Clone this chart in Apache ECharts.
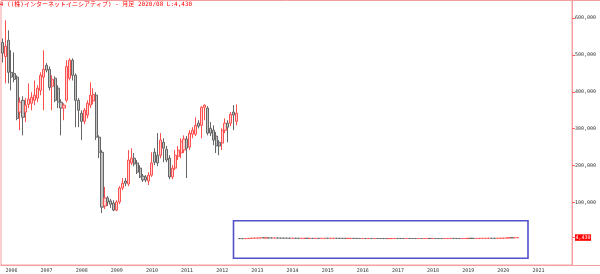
<!DOCTYPE html>
<html><head><meta charset="utf-8">
<script src="https://cdn.jsdelivr.net/npm/echarts@6/dist/echarts.min.js"></script>
<style>html,body{margin:0;padding:0;background:#fff}#c{width:600px;height:274px}</style>
</head><body><div id="c"></div>
<script>
const titleText = '3774 ((株)インターネットイニシアティブ) - 月足 2020/08 L:4,430';
const firstYear = 2005, firstMonth = 12, axisMonthCount = 195;
// monthly candles 2005/12 - 2012/08, [open, close, low, high] in thousand yen (before split)
const preSplitK = [
 [534,505,480,545],[496,524,423,594],[540,453,423,567],[453,440,404,513],[450,434,426,507],
 [440,328,323,445],[345,372,296,385],[377,331,282,388],[345,364,318,383],[366,380,356,423],
 [369,385,350,399],[377,391,364,431],[383,410,372,418],[404,445,391,453],[440,461,350,513],
 [472,459,453,478],[461,412,404,469],[415,434,350,445],[437,377,372,442],[410,372,356,418],
 [372,356,282,380],[356,364,323,369],[377,469,372,486],[437,486,431,491],[486,445,431,491],
 [445,377,304,450],[377,350,304,383],[342,320,269,350],[320,350,312,356],[337,369,328,377],
 [364,391,356,426],[375,393,366,410],[391,277,269,399],[277,236,220,282],[236,87,71,242],
 [90,112,82,142],[112,101,90,117],[104,95,85,109],[98,79,76,106],[79,101,76,106],
 [101,139,95,144],[139,152,133,166],[158,152,144,166],[150,215,144,242],[207,220,201,247],
 [220,204,198,234],[207,182,177,215],[193,169,166,201],[171,161,155,177],[169,161,155,174],
 [158,174,147,182],[174,207,169,236],[236,209,201,247],[228,207,198,288],[228,269,220,288],
 [263,247,209,274],[244,215,209,253],[220,169,163,228],[169,193,163,201],[193,228,188,242],
 [225,242,215,253],[234,266,220,274],[242,272,234,282],[272,247,166,280],[250,288,242,296],
 [285,296,274,304],[285,309,280,331],[315,307,301,323],[309,358,274,361],[358,364,323,366],
 [356,288,282,361],[301,288,280,318],[296,269,255,309],[280,253,234,291],[263,253,228,269],
 [261,296,242,301],[296,315,288,328],[315,304,263,323],[315,339,307,345],[345,337,296,364],
 [320,342,309,366]
];
// monthly candles 2012/09 - 2020/08, [open, close, low, high] in yen (after split)
const postSplit = [
 [1710,1650,1580,1760],[1650,1600,1520,1690],[1600,1720,1560,1750],[1720,2330,1700,2400],
 [2330,2900,2300,3000],[2900,3050,2750,3200],[3050,3300,2950,3500],[3300,3900,3250,4100],[3900,3450,3100,4300],[3450,3600,3150,3700],
 [3600,3400,3300,3750],[3400,3200,3050,3500],[3200,3350,3100,3450],[3350,3050,2950,3400],[3050,3000,2850,3150],[3000,2950,2850,3100],
 [2950,2700,2600,3000],[2700,2500,2400,2750],[2500,2700,2400,2800],[2700,2450,2350,2750],[2450,2350,2250,2500],[2350,2400,2300,2500],
 [2400,2450,2350,2550],[2450,2300,2200,2500],[2300,2420,2250,2500],[2420,2150,2050,2450],[2150,2300,2100,2350],[2300,2250,2150,2350],
 [2250,2350,2150,2400],[2350,2500,2300,2600],[2500,2380,2300,2550],[2380,2450,2300,2520],[2450,2600,2400,2680],[2600,2480,2400,2650],
 [2480,2350,2250,2520],[2350,2250,2000,2400],[2250,2150,2050,2300],[2150,2200,2100,2280],[2200,2300,2150,2350],[2300,2200,2150,2350],
 [2200,2050,1850,2250],[2050,1900,1750,2100],[1900,2000,1850,2050],[2000,1950,1850,2080],[1950,2050,1900,2100],[2050,1900,1800,2100],
 [1900,2000,1850,2050],[2000,1950,1900,2050],[1950,1850,1800,2000],[1850,1800,1750,1900],[1800,1750,1650,1850],[1750,1850,1700,1900],
 [1850,2000,1800,2050],[2000,2100,1950,2150],[2100,2050,2000,2200],[2050,2000,1950,2100],[2000,1950,1900,2050],[1950,2050,1920,2100],
 [2050,1980,1950,2100],[1980,1900,1850,2000],[1900,1850,1800,1950],[1850,1950,1830,2000],[1950,1900,1850,2000],[1900,1950,1870,2000],
 [1950,2100,1930,2200],[2100,2000,1900,2150],[2000,2050,1950,2100],[2050,1900,1850,2080],[1900,1850,1800,1950],[1850,1820,1750,1900],
 [1820,1900,1780,1950],[1900,2050,1880,2100],[2050,2200,2000,2300],[2200,2100,1950,2300],[2100,1950,1900,2150],[1950,1850,1700,2000],
 [1850,1950,1800,2000],[1950,2100,1900,2150],[2100,2300,2050,2350],[2300,2250,2200,2400],[2250,2100,2050,2300],[2100,2150,2050,2200],
 [2150,2300,2100,2350],[2300,2350,2200,2450],[2350,2450,2300,2500],[2450,2500,2400,2600],[2500,2450,2400,2600],[2450,2400,2350,2550],
 [2400,2650,2350,2750],[2650,2800,2550,3100],[2800,3100,2400,3300],[3100,3500,3000,3700],[3500,3900,3400,4100],[3900,3850,3700,4250],
 [3850,4100,3700,4300],[4100,4430,4000,4550]
];
const yTickValues = [100000, 200000, 300000, 400000, 500000, 600000];
const lastPrice = 4430;
const lastPriceLabel = '4,430';

const months = [];
for (let k = 0; k < axisMonthCount; k++) {
  const m = firstMonth - 1 + k;
  const y = firstYear + Math.floor(m / 12);
  months.push(y + '/' + String(m % 12 + 1).padStart(2, '0'));
}
const candles = preSplitK.map(r => r.map(v => v * 1000)).concat(postSplit);

const pink = '#f5a0a0';
const isYearStart = (i, v) => v.endsWith('/01') && v < '2022';
const chart = echarts.init(document.getElementById('c'), null, {renderer: 'canvas'});
chart.setOption({
  animation: false,
  title: {
    text: titleText, left: -11, top: 1, padding: 0,
    textStyle: {fontSize: 6, fontWeight: 'normal', color: '#ff0000', fontFamily: "'DejaVu Sans Mono', 'Noto Sans CJK JP'"}
  },
  grid: {left: 1, right: 28, top: 0.5, bottom: 9, show: true, borderColor: pink, borderWidth: 1, backgroundColor: 'transparent'},
  xAxis: {
    type: 'category', data: months, boundaryGap: true,
    axisLine: {onZero: false, lineStyle: {color: pink, width: 1}},
    axisTick: {interval: isYearStart, length: 9, lineStyle: {color: pink}},
    axisLabel: {interval: isYearStart, formatter: v => v.slice(0, 4), align: 'left', margin: 3,
      fontSize: 5, fontFamily: 'DejaVu Sans Mono', color: '#333'},
    splitLine: {show: false}
  },
  yAxis: {
    type: 'value', position: 'right', min: -70000, max: 648000,
    axisLine: {show: true, lineStyle: {color: pink}},
    axisTick: {show: true, customValues: [lastPrice].concat(yTickValues), length: 3, lineStyle: {color: '#ff6060'}},
    axisLabel: {customValues: yTickValues, formatter: v => v.toLocaleString('en-US'), margin: 3,
      fontSize: 5, fontFamily: 'DejaVu Sans Mono', color: '#333'},
    splitLine: {show: false}
  },
  series: [{
    type: 'candlestick',
    data: candles,
    barWidth: 2.6,
    itemStyle: {color: '#ffd0d0', borderColor: '#ff5050', color0: '#c2c2c2', borderColor0: '#666666', borderWidth: 1},
    markLine: {
      silent: true, symbol: ['none', 'none'],
      lineStyle: {color: 'rgba(0,0,0,0)', width: 0},
      data: [{yAxis: lastPrice}],
      label: {show: true, position: 'end', distance: 3, formatter: lastPriceLabel, backgroundColor: '#ff0000',
        color: '#ffffff', fontSize: 5, fontFamily: 'DejaVu Sans Mono', padding: [1, 0.5, 0.5, 0.5]}
    }
  }],
  graphic: [
    {type: 'line', shape: {x1: 572, y1: 265.5, x2: 600, y2: 265.5}, style: {stroke: pink, lineWidth: 1}},
    {type: 'line', shape: {x1: 572, y1: 0.5, x2: 600, y2: 0.5}, style: {stroke: pink, lineWidth: 1}},
    {type: 'rect', shape: {x: 233.5, y: 220.8, width: 294.5, height: 37.5}, style: {fill: 'none', stroke: '#5252cc', lineWidth: 1.6}}
  ]
});
</script></body></html>
